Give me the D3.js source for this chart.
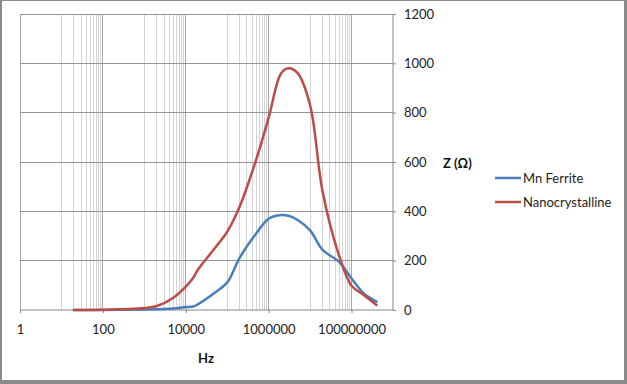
<!DOCTYPE html>
<html><head><meta charset="utf-8">
<script src="https://cdn.jsdelivr.net/npm/d3@7"></script>
<style>
html,body{margin:0;padding:0;background:#fff;}
svg{display:block;font-family:Lato,"Open Sans",sans-serif;}
</style></head>
<body>
<svg id="c" width="627" height="384"></svg>
<script>
const frequencies = [20, 100, 1000, 2000, 5000, 10000, 15000, 20000, 50000, 100000, 200000, 500000, 1e6, 2e6, 3e6, 5e6, 1e7, 2e7, 5e7, 1e8, 2e8, 4e8];
const mnFerrite =   [0, 0, 2, 3, 6, 12, 14, 24, 70, 112, 212, 310, 370, 385, 382, 365, 323, 244, 195, 128, 66, 34];
const nanocryst =   [0, 1, 8, 16, 50, 95, 130, 165, 250, 318, 420, 610, 780, 960, 980, 960, 830, 480, 220, 98, 60, 20];
const seriesNames = ["Mn Ferrite", "Nanocrystalline"];
const seriesColors = ["#4A7EBB", "#BE4B48"];
const xTickValues = [1, 100, 10000, 1000000, 100000000];
const xTickLabels = ["1", "100", "10000", "1000000", "100000000"];
const yTickValues = [0, 200, 400, 600, 800, 1000, 1200];

const svg = d3.select("#c");
// frame
svg.append("rect").attr("x",0).attr("y",0).attr("width",627).attr("height",384).attr("fill","#8a8a8a");
svg.append("rect").attr("x",2).attr("y",1).attr("width",622).attr("height",379).attr("fill","#fff");

const x = d3.scaleLog().domain([1, 1e9]).range([20, 393]);
const y = d3.scaleLinear().domain([0, 1200]).range([310, 14]);

// minor vertical grid
const minor = [];
for (let k = 0; k < 9; k += 2) {
  const base = Math.pow(10, k);
  for (let j = 1; j <= 9; j++) { const v = base * 10 * j; if (v < 1e9) minor.push(v); }
}
svg.append("g").selectAll("line").data(minor).join("line")
  .attr("x1", d => x(d)).attr("x2", d => x(d)).attr("y1", y(1200)).attr("y2", y(0))
  .attr("stroke", "#d4d4d4").attr("stroke-width", 1).attr("shape-rendering","crispEdges");
const majorX = [1, 100, 10000, 1e6, 1e8];
svg.append("g").selectAll("line").data(majorX).join("line")
  .attr("x1", d => x(d)).attr("x2", d => x(d)).attr("y1", y(1200)).attr("y2", y(0))
  .attr("stroke", "#a6a6a6").attr("stroke-width", 1).attr("shape-rendering","crispEdges");
// horizontal grid
svg.append("g").selectAll("line").data(yTickValues.filter(v=>v>0)).join("line")
  .attr("x1", 20).attr("x2", 393).attr("y1", d => y(d)).attr("y2", d => y(d))
  .attr("stroke", "#959595").attr("stroke-width", 1).attr("shape-rendering","crispEdges");

// axes
const xAxis = d3.axisBottom(x).tickValues(xTickValues).tickFormat((d,i)=>xTickLabels[i]).tickSize(3).tickPadding(12);
const gx = svg.append("g").attr("transform", `translate(0,${y(0)})`).call(xAxis);
gx.select(".domain").attr("stroke","#868686").attr("d", "M20,0H393");
gx.selectAll(".tick line").attr("stroke","#868686");
gx.selectAll("text").attr("font-size", 13).attr("fill","#222").attr("font-family","Lato");

const yAxis = d3.axisRight(y).tickValues(yTickValues).tickFormat(d3.format("d")).tickSize(3).tickPadding(8);
const gy = svg.append("g").attr("transform", `translate(393,0)`).call(yAxis);
gy.select(".domain").attr("stroke","#868686").attr("d","M0,14V310");
gy.selectAll(".tick line").attr("stroke","#868686");
gy.selectAll("text").attr("font-size", 13).attr("fill","#222").attr("font-family","Lato");

// lines
const series = [mnFerrite, nanocryst];
const line = d3.line().x(d => x(d[0])).y(d => y(d[1])).curve(d3.curveCatmullRom.alpha(0.5));
series.forEach((vals, i) => {
  svg.append("path").datum(frequencies.map((f, j) => [f, vals[j]]))
    .attr("d", line).attr("fill","none").attr("stroke", seriesColors[i])
    .attr("stroke-width", 2.5).attr("stroke-linejoin","round").attr("stroke-linecap","round");
});

// axis titles
svg.append("text").attr("x", 206).attr("y", 363).attr("text-anchor","middle")
  .attr("font-size", 13).attr("font-weight","bold").attr("fill","#111").text("Hz");
svg.append("text").attr("x", 443).attr("y", 168)
  .attr("font-size", 13).attr("font-weight","bold").attr("fill","#111").text("Z (Ω)");

// legend
const lg = svg.append("g");
seriesNames.forEach((n, i) => {
  const ly = 178 + i * 24;
  lg.append("line").attr("x1", 495).attr("x2", 521).attr("y1", ly).attr("y2", ly)
    .attr("stroke", seriesColors[i]).attr("stroke-width", 2.5);
  lg.append("text").attr("x", 523).attr("y", ly + 4.5).attr("font-size", 13).attr("fill","#222").text(n);
});
</script>
</body></html>
